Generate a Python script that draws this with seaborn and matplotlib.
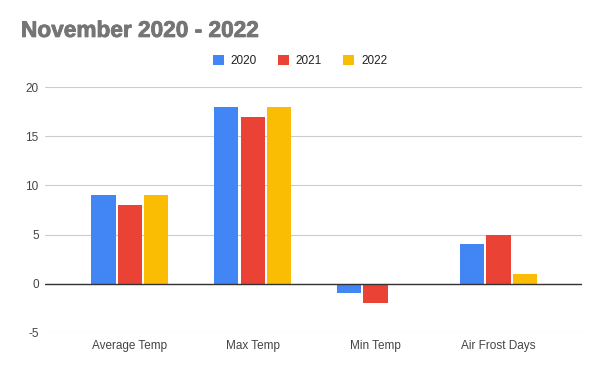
import matplotlib
matplotlib.use("Agg")
import matplotlib.pyplot as plt
import matplotlib.patheffects as pe
import seaborn as sns
import pandas as pd

categories = ["Average Temp", "Max Temp", "Min Temp", "Air Frost Days"]
years = ["2020", "2021", "2022"]
values_2020 = [9, 18, -1, 4]
values_2021 = [8, 17, -2, 5]
values_2022 = [9, 18, 0, 1]
colors = ["#4285F4", "#EA4335", "#FBBC04"]

rows = []
for yr, vals in zip(years, [values_2020, values_2021, values_2022]):
    for c, v in zip(categories, vals):
        rows.append({"Category": c, "Year": yr, "Value": v})
df = pd.DataFrame(rows)

sns.set_theme(style="white")
plt.rcParams['font.family'] = ['Liberation Sans', 'DejaVu Sans']
plt.rcParams['axes.unicode_minus'] = False

fig = plt.figure(figsize=(6, 3.71), dpi=100)
ax = fig.add_axes([0.075, 0.1032, 0.895, 0.6615])
sns.barplot(data=df, x="Category", y="Value", hue="Year", palette=colors,
            width=0.645, gap=0.08, ax=ax, legend=False, saturation=1, linewidth=0)

ax.set_ylim(-5, 20)
ax.set_yticks([-5, 0, 5, 10, 15, 20])
ax.set_xlim(-0.69, 3.68)
ax.grid(axis="y", color="#cccccc", linewidth=0.8)
ax.set_axisbelow(True)
ax.axhline(0, color="#333333", linewidth=1.0, zorder=3)
for s in ax.spines.values():
    s.set_visible(False)
ax.set_xlabel("")
ax.set_ylabel("")
ax.tick_params(axis="both", length=0, labelsize=8.5, colors="#444444", pad=5)
ax.tick_params(axis="y", pad=4.5)

fig.text(0.035, 0.918, "November 2020 - 2022", fontsize=16.3, fontweight="bold",
         color="#757575", va="center", ha="left",
         path_effects=[pe.withStroke(linewidth=0.6, foreground="#757575")])

from matplotlib.patches import Patch
handles = [Patch(facecolor=c, edgecolor="none") for c in colors]
fig.legend(handles, years, loc="center", bbox_to_anchor=(0.5, 0.835), ncol=3,
           frameon=False, fontsize=8.5, handlelength=0.9, handleheight=0.9,
           handletextpad=0.6, columnspacing=1.8, labelcolor="#222222")

fig.savefig("out.png", dpi=100, facecolor="white")
